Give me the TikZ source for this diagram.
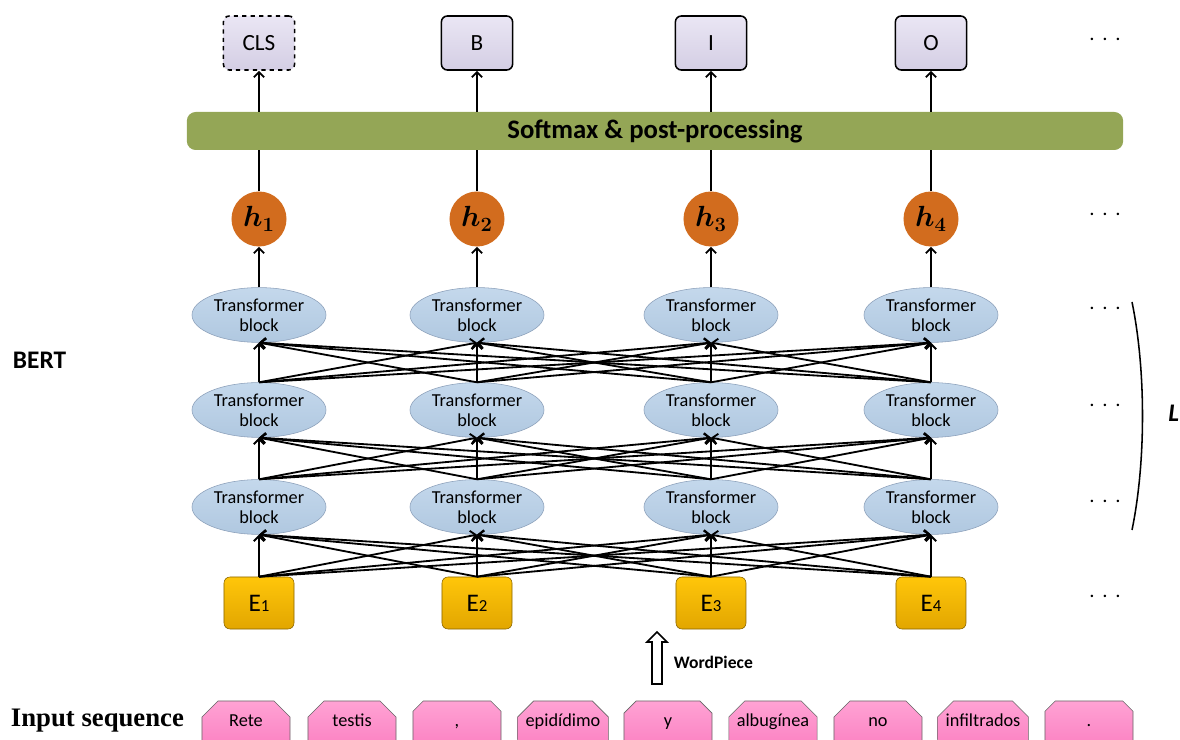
\documentclass[tikz,border=0pt]{standalone}
\usepackage{fontspec}
\usepackage{bm}
\setmainfont{Carlito}
\newfontfamily\timesfont{Liberation Serif}
\usepackage{tikz}
\usetikzlibrary{arrows.meta}
\usetikzlibrary{shapes.geometric}
\usetikzlibrary{shapes.misc}
\usepackage{xcolor}
\definecolor{ColTopA}{RGB}{234,230,244}
\definecolor{ColTopB}{RGB}{212,206,228}
\definecolor{ColBar}{RGB}{148,166,86}
\definecolor{ColHid}{RGB}{210,108,30}
\definecolor{ColBlkA}{RGB}{196,216,236}
\definecolor{ColBlkB}{RGB}{176,200,224}
\definecolor{ColBlkD}{RGB}{140,160,186}
\definecolor{ColEmbA}{RGB}{255,198,10}
\definecolor{ColEmbB}{RGB}{226,166,0}
\definecolor{ColTokA}{RGB}{255,162,212}
\definecolor{ColTokB}{RGB}{250,122,190}
\newcommand{\rowdots}{{$\cdot$}\hspace{4.5pt}{$\cdot$}\hspace{4.5pt}{$\cdot$}}
\tikzstyle{TopBox}=[rectangle,rounded corners=0.15cm,draw=black,line width=1.1pt,
top color=ColTopA,bottom color=ColTopB,minimum width=1.78cm,minimum height=1.35cm,
font=\fontsize{16.5}{18}\selectfont]
\tikzstyle{BarNode}=[rectangle,rounded corners=0.22cm,fill=ColBar,minimum width=23.4cm,
minimum height=0.95cm,font=\fontsize{19}{22}\selectfont\bfseries]
\tikzstyle{HidNode}=[circle,fill=ColHid,minimum size=1.375cm,inner sep=0pt,
font=\fontsize{21}{24}\selectfont]
\tikzstyle{BlockNode}=[ellipse,draw=ColBlkD,top color=ColBlkA,bottom color=ColBlkB,
minimum width=3.35cm,minimum height=1.37cm,inner sep=0pt,align=center,
font=\fontsize{13}{14.5}\selectfont]
\tikzstyle{EmbNode}=[rectangle,rounded corners=0.15cm,draw=ColEmbB!60!black,
top color=ColEmbA,bottom color=ColEmbB,minimum width=1.75cm,minimum height=1.3cm,
font=\fontsize{18}{20}\selectfont]
\tikzstyle{TokNode}=[chamfered rectangle,chamfered rectangle corners={north west,north east},
chamfered rectangle xsep=0.2cm,chamfered rectangle ysep=0.2cm,draw=black!60,
top color=ColTokA,bottom color=ColTokB,minimum width=2.2cm,minimum height=1.4cm,
inner sep=0pt,text height=9pt,text depth=12.4pt,font=\fontsize{13}{15}\selectfont]
\tikzstyle{EdgeNet}=[->,line width=1.3pt]
\tikzstyle{DotsNode}=[font=\fontsize{19}{20}\selectfont]
\begin{document}
\begin{tikzpicture}[x=0.025cm,y=-0.025cm,>={Straight Barb[length=1.3mm,width=2.6mm]}]
    \useasboundingbox(0,0)rectangle(1180,740);
    % outputs
    \node[TopBox,dashed](o1)at(259,43){CLS};
    \node[TopBox](o2)at(477,43){B};
    \node[TopBox](o3)at(711,43){I};
    \node[TopBox](o4)at(931,43){O};
    \node[BarNode](bar)at(655,131){Softmax \& post-processing};
    % hidden states
    \node[HidNode](h1)at(259,219){$\bm{h_1}$};
    \node[HidNode](h2)at(477,219){$\bm{h_2}$};
    \node[HidNode](h3)at(711,219){$\bm{h_3}$};
    \node[HidNode](h4)at(931,219){$\bm{h_4}$};
    % transformer layers
    \node[BlockNode](ta1)at(259,315){Transformer\\block};
    \node[BlockNode](ta2)at(477,315){Transformer\\block};
    \node[BlockNode](ta3)at(711,315){Transformer\\block};
    \node[BlockNode](ta4)at(931,315){Transformer\\block};
    \node[BlockNode](tb1)at(259,410){Transformer\\block};
    \node[BlockNode](tb2)at(477,410){Transformer\\block};
    \node[BlockNode](tb3)at(711,410){Transformer\\block};
    \node[BlockNode](tb4)at(931,410){Transformer\\block};
    \node[BlockNode](tc1)at(259,507){Transformer\\block};
    \node[BlockNode](tc2)at(477,507){Transformer\\block};
    \node[BlockNode](tc3)at(711,507){Transformer\\block};
    \node[BlockNode](tc4)at(931,507){Transformer\\block};
    % embeddings
    \node[EmbNode](e1)at(259,603){E{\fontsize{12}{12}\selectfont 1}};
    \node[EmbNode](e2)at(477,603){E{\fontsize{12}{12}\selectfont 2}};
    \node[EmbNode](e3)at(711,603){E{\fontsize{12}{12}\selectfont 3}};
    \node[EmbNode](e4)at(931,603){E{\fontsize{12}{12}\selectfont 4}};
    % input tokens
    \node[TokNode](w1)at(246,729){Rete};
    \node[TokNode](w2)at(352,729){testis};
    \node[TokNode](w3)at(457,729){,};
    \node[TokNode](w4)at(563,729){epidídimo};
    \node[TokNode](w5)at(668,729){y};
    \node[TokNode](w6)at(773,729){albugínea};
    \node[TokNode](w7)at(878,729){no};
    \node[TokNode](w8)at(983,729){infiltrados};
    \node[TokNode](w9)at(1089,729){.};
    % labels
    \node[font=\fontsize{18}{20}\selectfont\bfseries,anchor=west](bert)at(8,360){BERT};
    \node[font=\fontsize{19}{22}\selectfont\timesfont\bfseries,anchor=west](inseq)at(6,721){Input sequence};
    \node[font=\fontsize{12.5}{15}\selectfont\bfseries,anchor=west](wp)at(669,662){WordPiece};
    \node[font=\fontsize{18}{20}\selectfont\bfseries\itshape,anchor=east,inner sep=0.5pt](nl)at(1180,413){L};
    \node[DotsNode](d1)at(1105,40){\rowdots};
    \node[DotsNode](d2)at(1105,215){\rowdots};
    \node[DotsNode](d3)at(1105,309){\rowdots};
    \node[DotsNode](d4)at(1105,406){\rowdots};
    \node[DotsNode](d5)at(1105,502){\rowdots};
    \node[DotsNode](d6)at(1105,597){\rowdots};
    % connectors
    \foreach \i in {1,...,4}{
        \draw[EdgeNet](o\i.south |- bar.north)--(o\i.south);
        \draw[line width=1.3pt](h\i.north)--(h\i.north |- bar.south);
        \draw[EdgeNet](ta\i.north)--(h\i.south);
        \foreach \j in {1,...,4}{
            \draw[EdgeNet](tb\i.north)--(ta\j.south);
            \draw[EdgeNet](tc\i.north)--(tb\j.south);
            \draw[EdgeNet](e\i.north)--(tc\j.south);
        }
    }
    \draw[line width=1.1pt](1132,302)..controls(1146,370)and(1146,462)..(1132,530);
    \draw[line width=1.2pt,fill=white](652,684)--(652,642)--(647,642)--(657,632)
        --(667,642)--(662,642)--(662,684)--cycle;
\end{tikzpicture}
\end{document}
